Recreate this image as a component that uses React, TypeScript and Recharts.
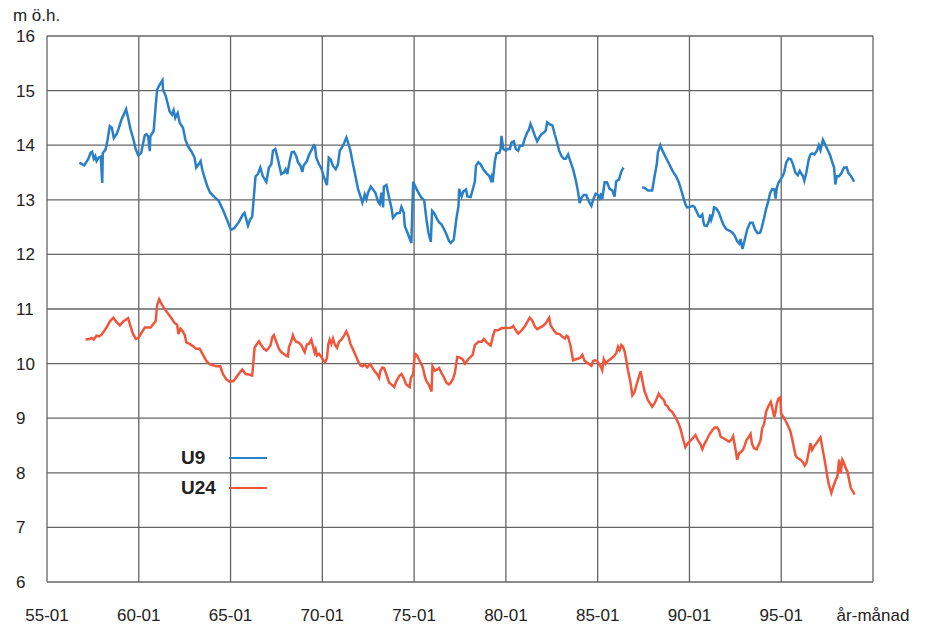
import { LineChart, Line, XAxis, YAxis, CartesianGrid, Legend } from "recharts";

// groundwater level, m ö.h., [decimal year, level]
const u9Points: [number, number | null][] = [
  [1956.76, 13.68], [1957.03, 13.63], [1957.25, 13.75], [1957.37, 13.86], [1957.46, 13.88],
  [1957.55, 13.75], [1957.63, 13.8], [1957.7, 13.71], [1957.81, 13.77], [1957.93, 13.79],
  [1958.01, 13.31], [1958.04, 13.86], [1958.19, 13.92], [1958.3, 14.1], [1958.42, 14.35],
  [1958.53, 14.32], [1958.64, 14.13], [1958.79, 14.2], [1958.89, 14.29], [1959.06, 14.47],
  [1959.18, 14.56], [1959.31, 14.66], [1959.4, 14.53], [1959.55, 14.29], [1959.69, 14.13],
  [1959.84, 13.92], [1959.98, 13.81], [1960.13, 13.86], [1960.24, 14.04], [1960.33, 14.18],
  [1960.42, 14.2], [1960.51, 14.16], [1960.6, 13.89], [1960.63, 14.16], [1960.81, 14.26],
  [1960.92, 14.71], [1961.0, 15.02], [1961.14, 15.11], [1961.29, 15.19], [1961.32, 15.02],
  [1961.47, 14.9], [1961.59, 14.74], [1961.68, 14.62], [1961.81, 14.56], [1961.9, 14.64],
  [1961.99, 14.5], [1962.12, 14.59], [1962.23, 14.41], [1962.41, 14.32], [1962.54, 14.1],
  [1962.68, 13.98], [1962.86, 13.89], [1963.04, 13.77], [1963.13, 13.59], [1963.26, 13.65],
  [1963.37, 13.71], [1963.46, 13.55], [1963.59, 13.4], [1963.73, 13.25], [1963.89, 13.13],
  [1964.13, 13.05], [1964.36, 12.98], [1964.58, 12.82], [1964.8, 12.64], [1965.02, 12.45],
  [1965.2, 12.48], [1965.45, 12.59], [1965.67, 12.73], [1965.76, 12.76], [1965.95, 12.53],
  [1966.07, 12.64], [1966.18, 12.69], [1966.36, 13.43], [1966.49, 13.47], [1966.62, 13.59],
  [1966.76, 13.43], [1966.95, 13.33], [1967.09, 13.59], [1967.22, 13.65], [1967.31, 13.9],
  [1967.44, 13.93], [1967.58, 13.74], [1967.76, 13.47], [1967.91, 13.5], [1968.0, 13.56],
  [1968.09, 13.47], [1968.22, 13.71], [1968.33, 13.87], [1968.45, 13.88], [1968.58, 13.8],
  [1968.67, 13.69], [1968.8, 13.63], [1968.91, 13.51], [1968.98, 13.63], [1969.16, 13.71],
  [1969.27, 13.82], [1969.44, 13.93], [1969.53, 14.0], [1969.6, 13.99], [1969.67, 13.77],
  [1969.82, 13.65], [1969.95, 13.57], [1970.09, 13.41], [1970.25, 13.27], [1970.35, 13.77],
  [1970.45, 13.74], [1970.58, 13.62], [1970.73, 13.56], [1970.85, 13.65], [1970.95, 13.9],
  [1971.07, 13.96], [1971.18, 14.03], [1971.31, 14.14], [1971.4, 14.05], [1971.53, 13.9],
  [1971.67, 13.65], [1971.82, 13.41], [1971.95, 13.19], [1972.07, 13.07], [1972.18, 12.95],
  [1972.31, 13.1], [1972.4, 13.01], [1972.49, 13.13], [1972.64, 13.24], [1972.76, 13.19],
  [1972.89, 13.13], [1973.04, 12.96], [1973.13, 12.92], [1973.22, 13.13], [1973.31, 12.86],
  [1973.35, 13.24], [1973.49, 13.27], [1973.64, 13.04], [1973.76, 12.86], [1973.85, 12.67],
  [1974.04, 12.75], [1974.22, 12.76], [1974.31, 12.87], [1974.44, 12.76], [1974.49, 12.52],
  [1974.67, 12.37], [1974.85, 12.21], [1974.95, 13.33], [1975.04, 13.26], [1975.22, 13.14],
  [1975.4, 13.04], [1975.55, 12.99], [1975.67, 12.64], [1975.78, 12.4], [1975.91, 12.23],
  [1975.98, 12.8], [1976.09, 12.76], [1976.22, 12.67], [1976.35, 12.59], [1976.49, 12.55],
  [1976.62, 12.47], [1976.76, 12.37], [1976.91, 12.24], [1977.0, 12.21], [1977.16, 12.27],
  [1977.31, 12.67], [1977.42, 12.89], [1977.45, 13.2], [1977.59, 13.06], [1977.68, 13.15],
  [1977.83, 13.19], [1977.9, 13.06], [1978.08, 13.05], [1978.22, 13.22], [1978.31, 13.34],
  [1978.37, 13.62], [1978.5, 13.69], [1978.62, 13.65], [1978.77, 13.56], [1978.95, 13.48],
  [1979.09, 13.44], [1979.17, 13.37], [1979.22, 13.42], [1979.28, 13.32], [1979.4, 13.71],
  [1979.49, 13.85], [1979.64, 13.86], [1979.71, 13.93], [1979.76, 14.17], [1979.86, 13.93],
  [1980.0, 13.9], [1980.07, 13.93], [1980.22, 13.93], [1980.31, 14.05], [1980.43, 14.07],
  [1980.54, 13.93], [1980.67, 13.9], [1980.76, 13.99], [1980.91, 13.99], [1981.03, 14.12],
  [1981.16, 14.23], [1981.25, 14.28], [1981.34, 14.39], [1981.45, 14.3], [1981.58, 14.17],
  [1981.7, 14.07], [1981.81, 14.14], [1981.94, 14.2], [1982.07, 14.23], [1982.17, 14.27],
  [1982.25, 14.42], [1982.36, 14.39], [1982.54, 14.36], [1982.66, 14.2], [1982.79, 14.05],
  [1982.9, 13.9], [1983.03, 13.8], [1983.15, 13.75], [1983.26, 13.75], [1983.39, 13.83],
  [1983.51, 13.71], [1983.66, 13.56], [1983.8, 13.37], [1983.93, 13.15], [1984.02, 12.94],
  [1984.11, 13.03], [1984.24, 13.09], [1984.38, 13.09], [1984.47, 13.01], [1984.57, 12.94],
  [1984.66, 12.89], [1984.75, 13.0], [1984.89, 13.11], [1985.02, 13.09], [1985.11, 13.03],
  [1985.2, 13.12], [1985.25, 13.01], [1985.38, 13.32], [1985.51, 13.32], [1985.65, 13.2],
  [1985.8, 13.17], [1985.92, 13.06], [1986.01, 13.34], [1986.16, 13.37], [1986.29, 13.52],
  [1986.41, 13.59], [1986.9, null], [1987.43, 13.23], [1987.55, 13.22], [1987.74, 13.17],
  [1987.97, 13.17], [1988.1, 13.43], [1988.22, 13.65], [1988.28, 13.86], [1988.41, 14.0],
  [1988.53, 13.9], [1988.72, 13.77], [1988.9, 13.65], [1989.08, 13.53], [1989.27, 13.43],
  [1989.41, 13.33], [1989.54, 13.19], [1989.67, 13.04], [1989.78, 12.92], [1989.87, 12.86],
  [1990.04, 12.87], [1990.18, 12.89], [1990.27, 12.87], [1990.37, 12.8], [1990.51, 12.7],
  [1990.59, 12.69], [1990.7, 12.73], [1990.77, 12.58], [1990.82, 12.53], [1990.95, 12.52],
  [1991.06, 12.61], [1991.14, 12.73], [1991.19, 12.64], [1991.28, 12.73], [1991.34, 12.86],
  [1991.47, 12.84], [1991.61, 12.76], [1991.74, 12.64], [1991.87, 12.53], [1992.01, 12.46],
  [1992.2, 12.43], [1992.34, 12.4], [1992.47, 12.34], [1992.6, 12.24], [1992.71, 12.2],
  [1992.78, 12.28], [1992.89, 12.1], [1993.02, 12.28], [1993.15, 12.46], [1993.3, 12.58],
  [1993.44, 12.58], [1993.57, 12.46], [1993.7, 12.39], [1993.85, 12.4], [1993.94, 12.49],
  [1994.07, 12.67], [1994.18, 12.84], [1994.3, 12.98], [1994.4, 13.13], [1994.52, 13.2],
  [1994.63, 13.19], [1994.69, 13.02], [1994.76, 13.22], [1994.85, 13.31], [1994.98, 13.38],
  [1995.09, 13.44], [1995.16, 13.5], [1995.27, 13.68], [1995.4, 13.76], [1995.53, 13.74],
  [1995.64, 13.65], [1995.77, 13.5], [1995.9, 13.45], [1996.01, 13.53], [1996.08, 13.49],
  [1996.19, 13.43], [1996.26, 13.35], [1996.37, 13.5], [1996.5, 13.74], [1996.59, 13.83],
  [1996.68, 13.85], [1996.81, 13.83], [1996.96, 13.91], [1997.05, 14.0], [1997.14, 13.91],
  [1997.27, 14.1], [1997.38, 14.02], [1997.51, 13.93], [1997.66, 13.82], [1997.78, 13.69],
  [1997.88, 13.59], [1997.95, 13.28], [1998.02, 13.43], [1998.15, 13.43], [1998.28, 13.49],
  [1998.42, 13.59], [1998.57, 13.59], [1998.66, 13.49], [1998.79, 13.44], [1998.88, 13.39],
  [1998.97, 13.33],
];

const u24Points: [number, number][] = [
  [1957.1, 10.44], [1957.3, 10.45], [1957.43, 10.47], [1957.55, 10.44], [1957.7, 10.51],
  [1957.84, 10.5], [1957.97, 10.53], [1958.1, 10.59], [1958.24, 10.66], [1958.42, 10.77],
  [1958.61, 10.84], [1958.79, 10.76], [1958.97, 10.7], [1959.15, 10.77], [1959.42, 10.83],
  [1959.55, 10.68], [1959.69, 10.54], [1959.84, 10.45], [1959.98, 10.47], [1960.14, 10.56],
  [1960.33, 10.66], [1960.51, 10.66], [1960.65, 10.66], [1960.78, 10.72], [1960.92, 10.78],
  [1961.0, 11.07], [1961.11, 11.18], [1961.23, 11.1], [1961.41, 11.0], [1961.59, 10.92],
  [1961.78, 10.83], [1961.96, 10.74], [1962.09, 10.71], [1962.16, 10.54], [1962.27, 10.64],
  [1962.38, 10.6], [1962.5, 10.53], [1962.59, 10.39], [1962.77, 10.36], [1962.95, 10.32],
  [1963.13, 10.27], [1963.32, 10.27], [1963.5, 10.16], [1963.68, 10.05], [1963.86, 9.99],
  [1964.04, 9.97], [1964.22, 9.95], [1964.44, 9.95], [1964.58, 9.81], [1964.77, 9.71],
  [1964.95, 9.67], [1965.16, 9.68], [1965.35, 9.77], [1965.49, 9.83], [1965.64, 9.89],
  [1965.82, 9.81], [1966.0, 9.8], [1966.18, 9.78], [1966.31, 10.29], [1966.44, 10.36],
  [1966.55, 10.41], [1966.67, 10.34], [1966.82, 10.27], [1966.95, 10.24], [1967.09, 10.29],
  [1967.18, 10.34], [1967.27, 10.48], [1967.36, 10.52], [1967.49, 10.4], [1967.64, 10.27],
  [1967.76, 10.21], [1967.89, 10.18], [1968.0, 10.15], [1968.13, 10.13], [1968.18, 10.3],
  [1968.31, 10.41], [1968.4, 10.52], [1968.49, 10.44], [1968.58, 10.4], [1968.73, 10.38],
  [1968.85, 10.34], [1968.95, 10.27], [1969.04, 10.21], [1969.16, 10.35], [1969.27, 10.36],
  [1969.4, 10.44], [1969.49, 10.32], [1969.58, 10.2], [1969.64, 10.26], [1969.71, 10.15],
  [1969.82, 10.18], [1969.95, 10.12], [1970.07, 10.05], [1970.16, 10.03], [1970.25, 10.1],
  [1970.33, 10.36], [1970.4, 10.44], [1970.49, 10.36], [1970.58, 10.46], [1970.69, 10.34],
  [1970.8, 10.29], [1970.91, 10.4], [1971.04, 10.44], [1971.16, 10.5], [1971.31, 10.59],
  [1971.42, 10.5], [1971.53, 10.36], [1971.67, 10.26], [1971.82, 10.15], [1971.95, 10.04],
  [1972.07, 9.97], [1972.18, 9.95], [1972.31, 9.98], [1972.44, 9.93], [1972.55, 9.97],
  [1972.62, 9.99], [1972.73, 9.92], [1972.85, 9.86], [1972.98, 9.81], [1973.09, 9.74],
  [1973.16, 9.86], [1973.27, 9.93], [1973.36, 9.92], [1973.49, 9.8], [1973.64, 9.65],
  [1973.76, 9.62], [1973.91, 9.57], [1974.04, 9.68], [1974.18, 9.77], [1974.31, 9.81],
  [1974.44, 9.73], [1974.55, 9.63], [1974.67, 9.59], [1974.76, 9.57], [1974.82, 9.73],
  [1974.95, 9.81], [1975.04, 10.18], [1975.16, 10.15], [1975.27, 10.07], [1975.4, 9.99],
  [1975.49, 9.91], [1975.58, 9.77], [1975.67, 9.68], [1975.82, 9.6], [1975.95, 9.49],
  [1976.0, 9.95], [1976.13, 9.87], [1976.25, 9.89], [1976.36, 9.92], [1976.49, 9.83],
  [1976.62, 9.75], [1976.76, 9.65], [1976.89, 9.62], [1977.0, 9.65], [1977.13, 9.73],
  [1977.22, 9.83], [1977.35, 10.12], [1977.5, 10.11], [1977.64, 10.08], [1977.77, 10.0],
  [1977.95, 10.08], [1978.19, 10.16], [1978.31, 10.34], [1978.5, 10.4], [1978.68, 10.4],
  [1978.8, 10.45], [1978.95, 10.39], [1979.17, 10.33], [1979.31, 10.52], [1979.4, 10.61],
  [1979.58, 10.61], [1979.76, 10.65], [1979.95, 10.65], [1980.13, 10.65], [1980.31, 10.66],
  [1980.4, 10.69], [1980.54, 10.61], [1980.67, 10.55], [1980.85, 10.61], [1981.03, 10.68],
  [1981.16, 10.76], [1981.3, 10.84], [1981.45, 10.78], [1981.58, 10.68], [1981.7, 10.63],
  [1981.85, 10.66], [1982.03, 10.69], [1982.17, 10.74], [1982.25, 10.78], [1982.36, 10.84],
  [1982.43, 10.71], [1982.57, 10.63], [1982.75, 10.55], [1982.93, 10.54], [1983.08, 10.49],
  [1983.21, 10.46], [1983.3, 10.51], [1983.39, 10.49], [1983.51, 10.34], [1983.66, 10.06],
  [1983.8, 10.08], [1983.93, 10.09], [1984.06, 10.11], [1984.17, 10.16], [1984.29, 10.05],
  [1984.42, 10.02], [1984.57, 9.98], [1984.66, 9.96], [1984.75, 10.05], [1984.84, 10.06],
  [1984.96, 10.05], [1985.07, 10.0], [1985.2, 9.92], [1985.25, 9.88], [1985.33, 10.08],
  [1985.43, 10.0], [1985.56, 10.05], [1985.69, 10.08], [1985.87, 10.13], [1986.01, 10.19],
  [1986.11, 10.31], [1986.2, 10.25], [1986.29, 10.34], [1986.38, 10.31], [1986.47, 10.22],
  [1986.56, 10.06], [1986.65, 9.88], [1986.78, 9.67], [1986.89, 9.42], [1987.01, 9.48],
  [1987.14, 9.64], [1987.25, 9.76], [1987.34, 9.86], [1987.43, 9.7], [1987.55, 9.5],
  [1987.74, 9.33], [1987.97, 9.21], [1988.1, 9.27], [1988.22, 9.36], [1988.33, 9.45],
  [1988.44, 9.39], [1988.53, 9.36], [1988.63, 9.32], [1988.68, 9.25], [1988.81, 9.22],
  [1988.9, 9.16], [1989.05, 9.12], [1989.18, 9.05], [1989.3, 8.98], [1989.41, 8.9],
  [1989.51, 8.81], [1989.6, 8.69], [1989.67, 8.6], [1989.78, 8.47], [1989.91, 8.54],
  [1990.09, 8.6], [1990.22, 8.65], [1990.33, 8.69], [1990.46, 8.6], [1990.59, 8.53],
  [1990.7, 8.43], [1990.82, 8.53], [1990.95, 8.61], [1991.1, 8.71], [1991.25, 8.78],
  [1991.37, 8.83], [1991.5, 8.83], [1991.61, 8.78], [1991.7, 8.66], [1991.87, 8.63],
  [1992.01, 8.6], [1992.16, 8.57], [1992.29, 8.61], [1992.38, 8.67], [1992.53, 8.39],
  [1992.6, 8.24], [1992.71, 8.36], [1992.84, 8.39], [1992.93, 8.43], [1993.02, 8.51],
  [1993.11, 8.6], [1993.26, 8.67], [1993.33, 8.71], [1993.41, 8.53], [1993.52, 8.45],
  [1993.66, 8.43], [1993.81, 8.54], [1993.88, 8.61], [1993.96, 8.81], [1994.07, 8.9],
  [1994.18, 9.12], [1994.3, 9.22], [1994.43, 9.3], [1994.52, 9.18], [1994.62, 9.02],
  [1994.67, 9.08], [1994.76, 9.27], [1994.85, 9.36], [1994.95, 9.38], [1995.0, 9.08],
  [1995.13, 9.02], [1995.27, 8.93], [1995.4, 8.84], [1995.49, 8.77], [1995.59, 8.63],
  [1995.68, 8.48], [1995.77, 8.33], [1995.86, 8.28], [1996.04, 8.24], [1996.19, 8.19],
  [1996.28, 8.13], [1996.37, 8.18], [1996.44, 8.28], [1996.54, 8.45], [1996.59, 8.54],
  [1996.68, 8.42], [1996.78, 8.48], [1996.92, 8.54], [1997.05, 8.61], [1997.14, 8.65],
  [1997.23, 8.48], [1997.33, 8.3], [1997.42, 8.13], [1997.51, 7.93], [1997.6, 7.78],
  [1997.73, 7.63], [1997.84, 7.75], [1997.97, 7.87], [1998.06, 7.93], [1998.15, 8.24],
  [1998.24, 7.99], [1998.33, 8.24], [1998.42, 8.18], [1998.52, 8.08], [1998.61, 8.02],
  [1998.7, 7.87], [1998.79, 7.72], [1998.94, 7.64], [1998.99, 7.6],
];

const seriesNames = ["U9", "U24"];
const xTicks = [1955, 1960, 1965, 1970, 1975, 1980, 1985, 1990, 1995, 2000];
const xTickLabels = ["55-01", "60-01", "65-01", "70-01", "75-01", "80-01", "85-01", "90-01", "95-01", "år-månad"];
const yTicks = [6, 7, 8, 9, 10, 11, 12, 13, 14, 15, 16];

const u9Data = u9Points.map(([year, level]) => ({ year, level }));
const u24Data = u24Points.map(([year, level]) => ({ year, level }));

const FONT = "'Liberation Sans', Arial, Helvetica, sans-serif";
const TEXT = "#222";

const renderLegend = (props: any) => {
  const items = [...(props.payload || [])].sort(
    (a: any, b: any) => seriesNames.indexOf(a.value) - seriesNames.indexOf(b.value)
  );
  return (
    <div style={{ fontFamily: FONT }}>
      {items.map((entry: any) => (
        <div key={entry.value} style={{ display: "flex", alignItems: "center", height: 30 }}>
          <span style={{ width: 48, fontSize: 19, fontWeight: "bold", color: TEXT }}>{entry.value}</span>
          <span style={{ width: 38, height: 2.5, background: entry.color }} />
        </div>
      ))}
    </div>
  );
};

export default function App() {
  return (
    <div style={{ position: "absolute", left: 0, top: 0, background: "#fff" }}>
      <LineChart
        width={928}
        height={625}
        margin={{ top: 36, right: 55, bottom: 0, left: 0 }}
        style={{ fontFamily: FONT }}
      >
        <CartesianGrid stroke="#666" strokeWidth={1.3} />
        <XAxis
          type="number"
          dataKey="year"
          domain={[1955, 2000]}
          ticks={xTicks}
          interval={0}
          height={43}
          axisLine={false}
          tickLine={false}
          tickMargin={21}
          tick={{ fill: TEXT, fontSize: 17 }}
          tickFormatter={(v: number) => xTickLabels[xTicks.indexOf(v)] ?? ""}
          allowDataOverflow
        />
        <YAxis
          type="number"
          domain={[6, 16]}
          ticks={yTicks}
          interval={0}
          width={47}
          axisLine={false}
          tickLine={false}
          tickMargin={25}
          tick={{ fill: TEXT, fontSize: 17, textAnchor: "start" }}
          label={{ value: "m ö.h.", position: "top", offset: 15, dx: 13, fill: TEXT, fontSize: 17 }}
        />
        <Legend
          layout="vertical"
          align="center"
          verticalAlign="middle"
          content={renderLegend}
          wrapperStyle={{ left: 181, top: 443, width: "auto" }}
        />
        <Line
          data={u9Data}
          dataKey="level"
          name={seriesNames[0]}
          type="linear"
          stroke="#2a80c6"
          strokeWidth={2.5}
          dot={false}
          connectNulls={false}
          isAnimationActive={false}
        />
        <Line
          data={u24Data}
          dataKey="level"
          name={seriesNames[1]}
          type="linear"
          stroke="#f0563c"
          strokeWidth={2.5}
          dot={false}
          isAnimationActive={false}
        />
      </LineChart>
    </div>
  );
}
